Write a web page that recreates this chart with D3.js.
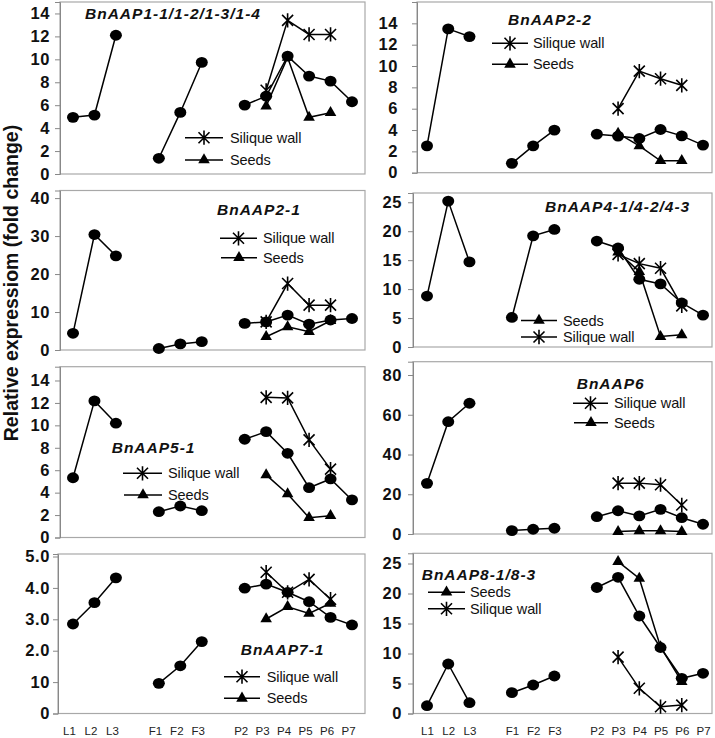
<!DOCTYPE html>
<html><head><meta charset="utf-8">
<script src="https://cdn.jsdelivr.net/npm/d3@7"></script>
<style>body{margin:0;background:#fff}svg{display:block}</style>
</head><body>
<svg id="chart" width="715" height="738"></svg>
<script>
// ---- categories ----
const slots = ["L1","L2","L3","gap1","F1","F2","F3","gap2","P2","P3","P4","P5","P6","P7"];
const tissueCats = ["L1","L2","L3","F1","F2","F3","P2","P3","P4","P5","P6","P7"];
const podCats = ["P3","P4","P5","P6"];
const tissueGroups = [["L1","L2","L3"],["F1","F2","F3"],["P2","P3","P4","P5","P6","P7"]];

// ---- data (tissue = leaves/flowers/pods, seeds, silique wall) ----
const aap1Tissue = [4.94, 5.14, 12.1, 1.37, 5.37, 9.73, 6.01, 6.79, 10.28, 8.54, 8.1, 6.3];
const aap1Seeds  = [5.92, 10.16, 4.94, 5.34];
const aap1Wall   = [7.3, 13.4, 12.17, 12.17];

const aap22Tissue = [2.52, 13.48, 12.76, 0.88, 2.52, 3.99, 3.61, 3.43, 3.21, 4.05, 3.45, 2.59];
const aap22Seeds  = [3.68, 2.52, 1.12, 1.12];
const aap22Wall   = [6.01, 9.52, 8.81, 8.19];

const aap21Tissue = [4.4, 30.4, 24.8, 0.4, 1.6, 2.2, 7.0, 7.4, 9.2, 6.8, 7.9, 8.3];
const aap21Seeds  = [3.5, 6.1, 4.8, 7.7];
const aap21Wall   = [7.4, 17.5, 11.8, 11.8];

const aap4Tissue = [8.8, 25.2, 14.7, 5.1, 19.2, 20.3, 18.3, 17.1, 11.7, 10.9, 7.6, 5.5];
const aap4Seeds  = [16.4, 13.0, 1.8, 2.1];
const aap4Wall   = [16.0, 14.4, 13.6, 7.1];

const aap5Tissue = [5.33, 12.18, 10.19, 2.3, 2.81, 2.39, 8.76, 9.44, 7.51, 4.44, 5.22, 3.35];
const aap5Seeds  = [5.58, 3.88, 1.77, 1.94];
const aap5Wall   = [12.5, 12.45, 8.7, 6.1];

const aap6Tissue = [25.5, 56.5, 65.8, 1.7, 2.4, 2.9, 8.7, 11.7, 9.1, 12.4, 8.2, 4.9];
const aap6Seeds  = [1.2, 1.6, 1.6, 1.2];
const aap6Wall   = [25.6, 25.6, 24.8, 14.6];

const aap7Tissue = [2.85, 3.53, 4.32, 0.96, 1.52, 2.29, 3.99, 4.12, 3.86, 3.56, 3.06, 2.82];
const aap7Seeds  = [3.01, 3.4, 3.19, 3.51];
const aap7Wall   = [4.5, 3.86, 4.27, 3.64];

const aap8Tissue = [1.3, 8.25, 1.8, 3.47, 4.75, 6.25, 21.0, 22.7, 16.25, 11.0, 5.87, 6.7];
const aap8Seeds  = [25.3, 22.5, 11.1, 5.3];
const aap8Wall   = [9.4, 4.2, 1.13, 1.4];

// ---- tick values / labels ----
const ticks0to14 = [0, 2, 4, 6, 8, 10, 12, 14];
const ticks0to40 = [0, 10, 20, 30, 40];
const ticks0to25 = [0, 5, 10, 15, 20, 25];
const ticks0to80 = [0, 20, 40, 60, 80];
const ticks0to5  = [0, 1, 2, 3, 4, 5];
const ticks0to5Labels = ["0", "10", "2.0", "3.0", "4.0", "5.0"];

const yTitle = "Relative expressiom (fold change)";
const wallName = "Silique wall", seedsName = "Seeds";

// ---- layout ----
const cols = [
  {axisX: 60, right: 365, p0: 73, p1: 352, labelRight: 50, catShift: -4},
  {axisX: 413, right: 712, p0: 427, p1: 703, labelRight: 402, catShift: 0}
];
const panels = [
  {title:"BnAAP1-1/1-2/1-3/1-4", tissue:aap1Tissue, seeds:aap1Seeds, wall:aap1Wall, col:0, top:2, zero:174, max:15, ticks:ticks0to14,
   titleXY:[85,18.5], legend:[["wall",185,223,137.7,230],["seeds",185,223,160,230]]},
  {title:"BnAAP2-2", tissue:aap22Tissue, seeds:aap22Seeds, wall:aap22Wall, col:1, top:2, zero:172.7, max:16, ticks:ticks0to14, axisX:417, labelRight:398,
   titleXY:[508,25], legend:[["wall",492,528,43.3,533],["seeds",492,528,64.3,533]]},
  {title:"BnAAP2-1", tissue:aap21Tissue, seeds:aap21Seeds, wall:aap21Wall, col:0, top:190.5, zero:350, max:42, ticks:ticks0to40,
   titleXY:[217,215], legend:[["wall",220,257,238.3,263],["seeds",221,257,257.7,263]]},
  {title:"BnAAP4-1/4-2/4-3", tissue:aap4Tissue, seeds:aap4Seeds, wall:aap4Wall, col:1, top:193, zero:347, max:26.6, ticks:ticks0to25,
   titleXY:[545,211.7], legend:[["seeds",521,557,320.5,563],["wall",521,557,337,563]]},
  {title:"BnAAP5-1", tissue:aap5Tissue, seeds:aap5Seeds, wall:aap5Wall, col:0, top:366.7, zero:537.5, max:15.23, ticks:ticks0to14,
   titleXY:[111.7,453.3], legend:[["wall",123,162,473.3,168],["seeds",124,162,495,168]]},
  {title:"BnAAP6", tissue:aap6Tissue, seeds:aap6Seeds, wall:aap6Wall, col:1, top:361.7, zero:534, max:86.7, ticks:ticks0to80,
   titleXY:[576.7,389.3], legend:[["wall",573,608,403.3,614],["seeds",574,608,422.7,614]]},
  {title:"BnAAP7-1", tissue:aap7Tissue, seeds:aap7Seeds, wall:aap7Wall, col:0, top:554, zero:713.5, max:5.08, ticks:ticks0to5, tickLabels:ticks0to5Labels, axisX:58,
   titleXY:[240.7,655], legend:[["wall",224,260,676.7,266.7],["seeds",224,260,698.3,266.7]], bottom:true},
  {title:"BnAAP8-1/8-3", tissue:aap8Tissue, seeds:aap8Seeds, wall:aap8Wall, col:1, top:553.3, zero:713.5, max:26.7, ticks:ticks0to25,
   titleXY:[421.7,580], legend:[["seeds",428,465,592.2,470],["wall",428,465,608.8,470]], bottom:true}
];

const svg = d3.select("#chart");
const FONT = "'Liberation Sans', Arial, sans-serif";
const starPath = (s) => `M${-s},${-s}L${s},${s}M${-s},${s}L${s},${-s}M0,${-s*1.3}L0,${s*1.3}`;
const triSym = d3.symbol().type(d3.symbolTriangle).size(58);

function drawMarker(g, type, x, y) {
  if (type === "circle") {
    g.append("ellipse").attr("cx", x).attr("cy", y).attr("rx", 6).attr("ry", 5.4).attr("fill", "#000");
  } else if (type === "seeds") {
    g.append("path").attr("d", triSym()).attr("transform", `translate(${x},${y})`).attr("fill", "#000");
  } else {
    g.append("path").attr("d", starPath(5.5)).attr("transform", `translate(${x},${y})`)
      .attr("stroke", "#000").attr("stroke-width", 1.6).attr("fill", "none");
  }
}

panels.forEach(p => {
  const c = cols[p.col];
  const axisX = p.axisX ?? c.axisX;
  const labelRight = p.labelRight ?? c.labelRight;
  const x = d3.scalePoint().domain(slots).range([c.p0, c.p1]);
  const y = d3.scaleLinear().domain([0, p.max]).range([p.zero, p.top]);
  const g = svg.append("g");

  // frame
  g.append("rect").attr("x", axisX).attr("y", p.top).attr("width", c.right - axisX).attr("height", p.zero - p.top)
    .attr("fill", "none").attr("stroke", "#a8a8a8").attr("stroke-width", 1.2);

  // y axis
  const ax = d3.axisLeft(y).tickValues(p.ticks).tickSize(5).tickPadding(axisX - labelRight - 5)
    .tickFormat((d, i) => p.tickLabels ? p.tickLabels[i] : d3.format("d")(d));
  const axg = g.append("g").attr("transform", `translate(${axisX},0)`).call(ax);
  axg.select(".domain").attr("stroke", "#888");
  axg.selectAll(".tick line").attr("stroke", "#888");
  axg.selectAll(".tick text").attr("font-family", FONT).attr("font-weight", "bold")
    .attr("font-size", 16.5).attr("fill", "#111").attr("letter-spacing", 0.6);

  // tissue lines (leaves, flowers, pods)
  const valueOf = Object.fromEntries(tissueCats.map((k, i) => [k, p.tissue[i]]));
  const line = d3.line().x(d => x(d[0])).y(d => y(d[1]));
  tissueGroups.forEach(grp => {
    g.append("path").attr("d", line(grp.map(k => [k, valueOf[k]])))
      .attr("fill", "none").attr("stroke", "#000").attr("stroke-width", 1.5);
  });
  // seeds and wall lines
  const seedPts = podCats.map((k, i) => [k, p.seeds[i]]);
  const wallPts = podCats.map((k, i) => [k, p.wall[i]]);
  g.append("path").attr("d", line(seedPts)).attr("fill", "none").attr("stroke", "#000").attr("stroke-width", 1.5);
  g.append("path").attr("d", line(wallPts)).attr("fill", "none").attr("stroke", "#000").attr("stroke-width", 1.5);

  tissueCats.forEach((k, i) => drawMarker(g, "circle", x(k), y(p.tissue[i])));
  seedPts.forEach(d => drawMarker(g, "seeds", x(d[0]), y(d[1])));
  wallPts.forEach(d => drawMarker(g, "wall", x(d[0]), y(d[1])));

  // title
  g.append("text").attr("x", p.titleXY[0]).attr("y", p.titleXY[1]).text(p.title)
    .attr("font-family", FONT).attr("font-weight", "bold").attr("font-style", "italic")
    .attr("font-size", 15.5).attr("letter-spacing", 1).attr("fill", "#111");

  // legend
  p.legend.forEach(([type, lx0, lx1, ly, tx]) => {
    g.append("line").attr("x1", lx0).attr("x2", lx1).attr("y1", ly).attr("y2", ly)
      .attr("stroke", "#000").attr("stroke-width", 1.5);
    drawMarker(g, type, (lx0 + lx1) / 2, ly);
    g.append("text").attr("x", tx).attr("y", ly).attr("dy", "0.35em")
      .text(type === "wall" ? wallName : seedsName)
      .attr("font-family", FONT).attr("font-size", 14.5).attr("letter-spacing", -0.1).attr("fill", "#111");
  });

  // category axis under bottom panels
  if (p.bottom) {
    const bx = d3.axisBottom(x).tickValues(tissueCats).tickSize(0).tickPadding(13);
    const bg = g.append("g").attr("transform", `translate(${c.catShift},${p.zero})`).call(bx);
    bg.select(".domain").remove();
    bg.selectAll(".tick text").attr("font-family", FONT).attr("font-size", 11.5).attr("fill", "#222");
  }
});

// y title
svg.append("text").attr("transform", "translate(11,283) rotate(-90)")
  .attr("text-anchor", "middle").attr("dominant-baseline", "central")
  .attr("font-family", FONT).attr("font-weight", "bold").attr("font-size", 19.5).attr("fill", "#111")
  .text(yTitle);
</script>
</body></html>
